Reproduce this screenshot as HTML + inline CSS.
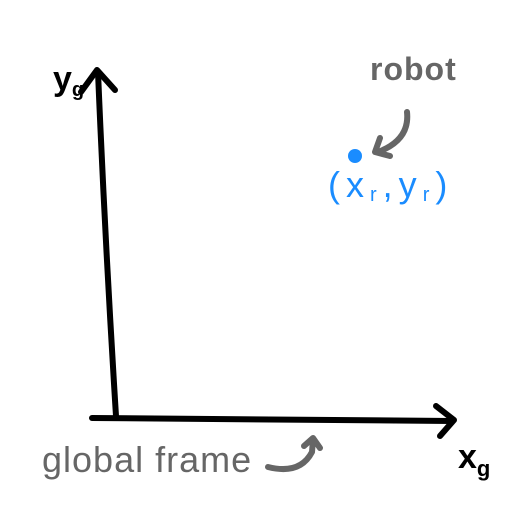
<!DOCTYPE html>
<html><head><style>
html,body{margin:0;padding:0;background:#fff;}
svg{display:block}
</style></head><body>
<svg width="512" height="512" viewBox="0 0 512 512" xmlns="http://www.w3.org/2000/svg">
<g fill="none" stroke="#000" stroke-linecap="round" stroke-linejoin="round" stroke-width="6">
<path d="M98 72 Q105 240 116 416"/>
<path d="M81 92 L97 70 L115 90"/>
<path d="M92 418 Q270 419 452 421"/>
<path d="M436 406 L454 420 L440 436"/>
</g>
<g fill="none" stroke="#666" stroke-linecap="round" stroke-linejoin="round" stroke-width="6">
<path d="M407 112 Q410 140 378 152"/>
<path d="M380 138 L375 152 L390 156"/>
<path d="M268 467 Q300 475 312 452 L313 440"/>
<path d="M304 446 L313 438 L320 448"/>
</g>
<circle cx="355" cy="156" r="7" fill="#1a8cff"/>
<text x="370" y="80" font-family="Liberation Sans, sans-serif" font-size="32" fill="#666" font-weight="bold" letter-spacing="1">robot</text>
<text x="328" y="197" font-family="Liberation Sans, sans-serif" font-size="36" fill="#1a8cff" letter-spacing="6">(x<tspan font-size="20" dy="4">r</tspan><tspan dy="-4">,y</tspan><tspan font-size="20" dy="4">r</tspan><tspan dy="-4">)</tspan></text>
<text x="42" y="472" font-family="Liberation Sans, sans-serif" font-size="36" fill="#666" letter-spacing="1">global frame</text>
<text x="458" y="468" font-family="Liberation Sans, sans-serif" font-size="34" fill="#000" font-weight="bold">x<tspan font-size="22" dy="8">g</tspan></text>
<text x="53" y="90" font-family="Liberation Sans, sans-serif" font-size="34" fill="#000" font-weight="bold">y<tspan font-size="20" dy="6">g</tspan></text>
</svg>
</body></html>
